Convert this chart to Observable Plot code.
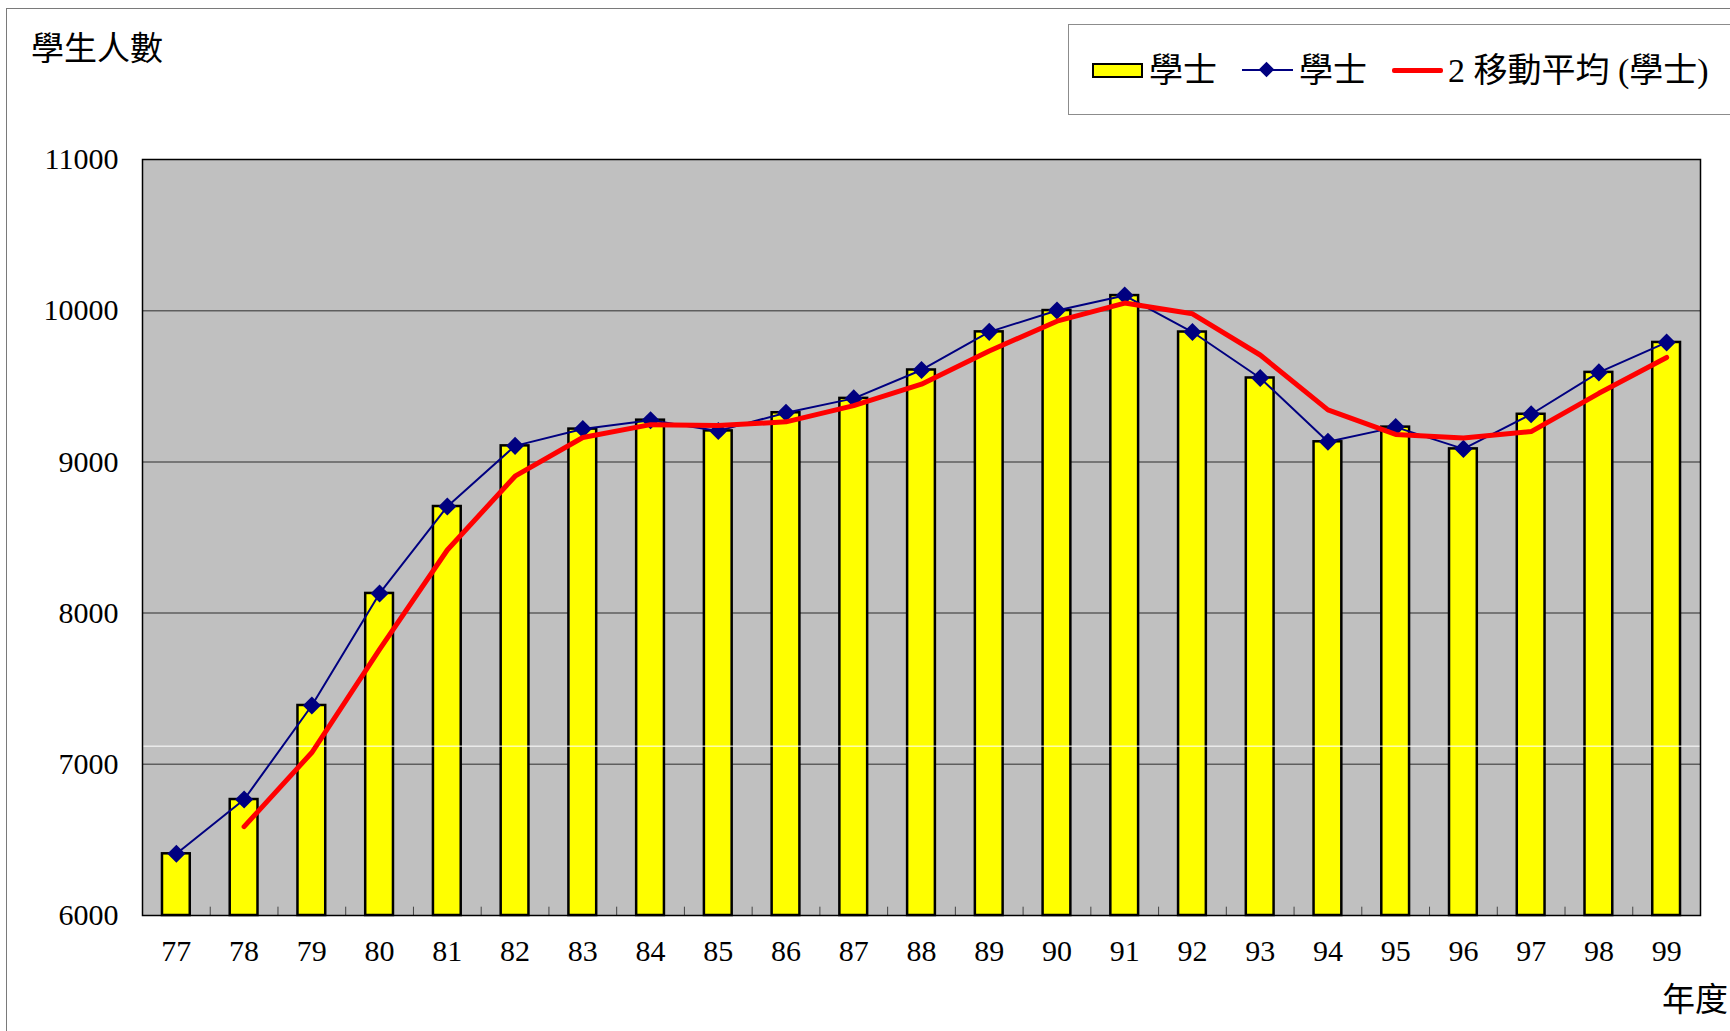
<!DOCTYPE html>
<html>
<head>
<meta charset="utf-8">
<script src="https://cdn.jsdelivr.net/npm/d3@7"></script>
<script src="https://cdn.jsdelivr.net/npm/@observablehq/plot@0.6"></script>
<style>
  html, body { margin: 0; padding: 0; background: #fff; overflow: hidden; width: 1730px; height: 1031px; }
  #wrap { position: relative; width: 1730px; height: 1031px; overflow: hidden; }
  #border { position: absolute; left: 6px; top: 8px; width: 1800px; height: 1100px; border: 1px solid #7a7a7a; box-sizing: border-box; }
  #chart { position: absolute; left: 0; top: 0; }
  .txt { position: absolute; font-family: "Liberation Serif", "Noto Sans CJK TC", serif; font-size: 33px; line-height: 33px; color: #000; white-space: nowrap; }
  #legend { position: absolute; left: 1068px; top: 24px; width: 800px; height: 91px; border: 1px solid #8c8c8c; box-sizing: border-box; background: #fff; }
  .swatch { position: absolute; left: 1092px; top: 63px; width: 51px; height: 15px; background: #ffff00; border: 2.5px solid #000; box-sizing: border-box; }
  .bline { position: absolute; left: 1242px; top: 69px; width: 51px; height: 2px; background: #000080; }
  .bdia { position: absolute; left: 1261px; top: 64px; width: 11px; height: 11px; background: #000080; transform: rotate(45deg); }
  .rline { position: absolute; left: 1392px; top: 68px; width: 51px; height: 5px; background: #ff0000; border-radius: 2px; }
</style>
</head>
<body>
<div id="wrap">
  <div id="border"></div>
  <div class="txt" style="left:31px; top:33px;">學生人數</div>
  <div id="legend"></div>
  <div class="swatch"></div>
  <div class="txt" style="left:1149px; top:54px; font-size:34px;">學士</div>
  <div class="bline"></div>
  <div class="bdia"></div>
  <div class="txt" style="left:1299px; top:54px; font-size:34px;">學士</div>
  <div class="rline"></div>
  <div class="txt" style="left:1448px; top:54px; font-size:34px;">2 移動平均 (學士)</div>
  <div class="txt" style="left:1662px; top:984px;">年度</div>
</div>
<script>
// Academic years (ROC calendar)
const years = [77, 78, 79, 80, 81, 82, 83, 84, 85, 86, 87, 88, 89, 90, 91, 92, 93, 94, 95, 96, 97, 98, 99];
// Number of bachelor students (學士)
const students = [6408, 6767, 7389, 8130, 8705, 9106, 9217, 9276, 9205, 9325, 9420, 9608, 9860, 10001, 10100, 9859, 9555, 9133, 9230, 9086, 9315, 9592, 9790];
// Y axis tick values
const yTicks = [6000, 7000, 8000, 9000, 10000, 11000];
const gridValues = [7000, 8000, 9000, 10000];
// faint white horizontal line visible in the original picture
const whiteLine = [7120];

const data = years.map((y, i) => ({year: y, value: students[i]}));
const boundaries = years.slice(1).map(y => y - 0.5);
const halfBar = 0.205;

const diamond = {
  draw(context, size) {
    const h = Math.sqrt(size / 2);
    context.moveTo(0, -h);
    context.lineTo(h, 0);
    context.lineTo(0, h);
    context.lineTo(-h, 0);
    context.closePath();
  }
};

const chart = Plot.plot({
  width: 1730,
  height: 1031,
  marginLeft: 142,
  marginRight: 30,
  marginTop: 159,
  marginBottom: 116,
  x: {domain: [76.5, 99.5], label: null},
  y: {domain: [6000, 11000], label: null},
  style: {fontFamily: '"Liberation Serif", "Noto Sans CJK TC", serif', fontSize: "30px", color: "#000", background: "transparent"},
  marks: [
    Plot.frame({fill: "#c0c0c0", stroke: "none"}),
    Plot.ruleY(gridValues, {stroke: "#5e5e5e", strokeWidth: 1.5}),
    Plot.rect(data, {x1: d => d.year - halfBar, x2: d => d.year + halfBar, y1: 6000, y2: "value", fill: "#ffff00", stroke: "#000", strokeWidth: 2.5}),
    Plot.ruleY(whiteLine, {stroke: "#ffffff", strokeWidth: 1}),
    Plot.ruleX(boundaries, {y1: 6000, y2: 6055, stroke: "#444", strokeWidth: 1}),
    Plot.lineY(data, {x: "year", y: "value", stroke: "#000080", strokeWidth: 2}),
    Plot.dot(data, {x: "year", y: "value", symbol: diamond, r: 7.2, fill: "#000080", stroke: "none"}),
    Plot.lineY(data, Plot.windowY({k: 2, anchor: "end", strict: true}, {x: "year", y: "value", stroke: "#ff0000", strokeWidth: 5, strokeLinejoin: "round", strokeLinecap: "round"})),
    Plot.frame({stroke: "#000", strokeWidth: 1.5}),
    Plot.axisX(years, {tickSize: 0, tickPadding: 24, fontSize: 30, label: null, tickFormat: d => String(d)}),
    Plot.axisY(yTicks, {tickSize: 0, tickPadding: 24, fontSize: 30, label: null, tickFormat: d => String(d)})
  ]
});
chart.id = "chart";
document.getElementById("wrap").appendChild(chart);
</script>
</body>
</html>
